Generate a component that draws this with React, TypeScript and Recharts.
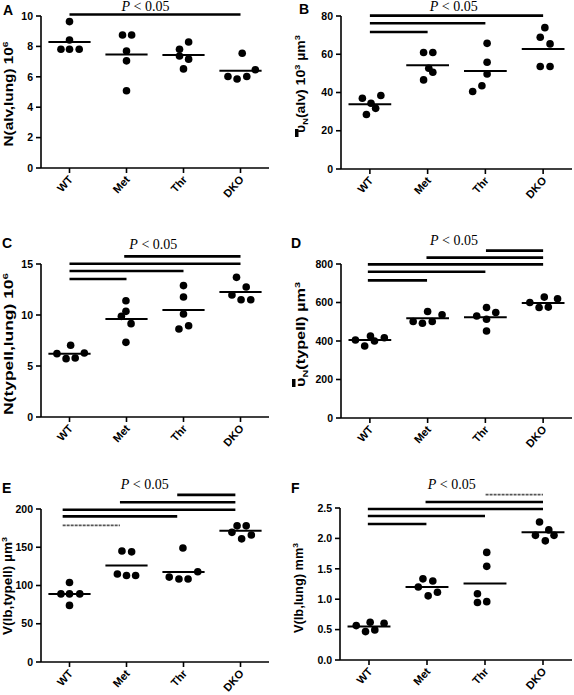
import React from 'react';
import { ScatterChart, Scatter, XAxis, YAxis, ReferenceLine } from 'recharts';

const SANS = '"Liberation Sans", Arial, sans-serif';
const SERIF = '"Liberation Serif", "Times New Roman", serif';

// ---------- data ----------
const categories = ['WT', 'Met', 'Thr', 'DKO'];

// Panel A: N(alv,lung) 10^6
const aTicks = [0, 2, 4, 6, 8, 10];
const aValues = [
  [9.63, 8.42, 7.81, 7.81, 7.81],
  [8.75, 8.75, 7.7, 7.05, 5.08],
  [7.81, 8.29, 7.37, 7.16, 6.52],
  [7.55, 6.02, 5.86, 6.02, 6.46],
];
const aJitter = [
  [0, 0, -0.15, 0, 0.17],
  [-0.07, 0.09, 0, 0, 0],
  [-0.07, 0.09, -0.07, 0.09, 0],
  [0.03, -0.22, -0.06, 0.11, 0.26],
];
const aMeans = [8.29, 7.46, 7.44, 6.39];
const aBars: [number, number, number][] = [[0, 3, 10.1]];

// Panel B: mean alveolar volume 10^3 µm^3
const bTicks = [0, 20, 40, 60, 80];
const bValues = [
  [37.0, 34.4, 38.4, 31.7, 28.5],
  [60.9, 60.9, 52.7, 50.6, 46.6],
  [65.7, 55.8, 49.7, 43.5, 40.5],
  [73.9, 68.9, 65.4, 53.6, 53.6],
];
const bJitter = [
  [-0.13, 0.02, 0.19, 0.1, -0.06],
  [-0.07, 0.09, 0.02, 0.09, -0.07],
  [0.03, 0.03, 0.03, -0.06, -0.22],
  [0.03, -0.05, 0.12, -0.05, 0.12],
];
const bMeans = [33.9, 54.3, 51.3, 62.8];
const bBars: [number, number, number][] = [[0, 3, 80.2], [0, 2, 76.2], [0, 1, 71.6]];

// Panel C: N(typeII,lung) 10^6
const cTicks = [0, 5, 10, 15];
const cValues = [
  [7.03, 6.21, 5.72, 5.78, 6.27],
  [11.4, 10.36, 9.87, 9.15, 7.32],
  [12.88, 11.76, 10.1, 8.63, 8.95],
  [13.69, 12.75, 11.96, 11.5, 11.5],
];
const cJitter = [
  [0.02, -0.22, -0.06, 0.1, 0.26],
  [-0.01, -0.01, -0.09, 0.08, -0.01],
  [0, 0, 0, -0.08, 0.09],
  [-0.07, 0.1, -0.15, 0.01, 0.18],
];
const cMeans = [6.21, 9.61, 10.49, 12.25];
const cBars: [number, number, number][] = [[0.96, 3, 15.75], [0, 3, 15.03], [0, 2, 14.31], [0, 1, 13.53]];

// Panel D: mean type II cell volume µm^3
const dTicks = [0, 200, 400, 600, 800];
const dValues = [
  [405, 374, 426, 400, 417],
  [553, 501, 492, 501, 536],
  [574, 548, 530, 513, 452],
  [600, 574, 628, 576, 619],
];
const dJitter = [
  [-0.25, -0.09, 0.01, 0.08, 0.25],
  [0, -0.25, -0.09, 0.08, 0.25],
  [0.02, 0.18, -0.15, 0.02, 0.02],
  [-0.23, -0.07, 0.02, 0.09, 0.25],
];
const dMeans = [405, 518, 523, 597];
const dBars: [number, number, number][] = [[2.01, 3, 869.6], [0.98, 3, 833], [-0.035, 3, 798], [-0.035, 2, 760], [-0.035, 0.99, 714.8]];

// Panel E: V(lb,typeII) µm^3
const eTicks = [0, 50, 100, 150, 200];
const eValues = [
  [104, 89, 89, 89, 74],
  [145, 144, 115, 113, 113],
  [149, 111, 108.5, 108.5, 118],
  [178, 178, 169.5, 161, 166],
];
const eJitter = [
  [0, -0.15, 0, 0.18, 0],
  [-0.08, 0.09, -0.16, 0, 0.16],
  [-0.01, -0.25, -0.08, 0.08, 0.25],
  [-0.06, 0.1, -0.15, 0.02, 0.19],
];
const eMeans = [89, 126, 117.5, 171.6];
const eBars: [number, number, number][] = [[1.89, 2.91, 218.4], [0.885, 2.91, 208.8], [-0.12, 2.91, 199.1], [-0.12, 1.89, 190.4], [-0.12, 0.885, 178.6]];

// Panel F: V(lb,lung) mm^3
const fTicks = [0, 0.5, 1.0, 1.5, 2.0, 2.5];
const fValues = [
  [0.566, 0.467, 0.62, 0.495, 0.604],
  [1.335, 1.3, 1.2, 1.055, 1.115],
  [1.77, 1.54, 1.09, 0.945, 0.96],
  [2.27, 2.14, 2.05, 1.96, 2.05],
];
const fJitter = [
  [-0.22, -0.06, 0.02, 0.1, 0.26],
  [-0.07, 0.1, -0.15, 0.02, 0.18],
  [0.03, 0.03, -0.13, -0.13, 0.03],
  [-0.06, 0.1, -0.13, 0.04, 0.19],
];
const fMeans = [0.55, 1.2, 1.26, 2.1];
const fBars: [number, number, number][] = [[2.01, 3, 2.72], [0.975, 3, 2.599], [-0.02, 3, 2.484], [-0.02, 2, 2.368], [-0.02, 0.99, 2.236]];

// ---------- styling ----------
const MEAN_HALF = 0.37;
const AXIS = { stroke: '#000', strokeWidth: 1.6 };

const XTick = (props: any) => {
  const { x, y, payload } = props;
  const ax = x + 4;
  const ay = y + 5;
  return (
    <text
      x={ax}
      y={ay}
      transform={`rotate(-48 ${ax} ${ay})`}
      textAnchor="end"
      fontFamily={SANS}
      fontWeight="bold"
      fontSize={11}
      fill="#000"
    >
      {categories[payload.value]}
    </text>
  );
};

const Dot = (props: any) => <circle cx={props.cx} cy={props.cy} r={3.8} fill="#000" />;

interface PanelProps {
  left: number;
  top: number;
  height: number;
  margin: { top: number; right: number; bottom: number; left: number };
  yWidth: number;
  xHeight: number;
  ticks: number[];
  decimals?: number;
  values: number[][];
  jitter: number[][];
  means: number[];
  bars: [number, number, number][];
  lightBar?: number;
  overlay: React.ReactNode;
}

const Panel = (p: PanelProps) => {
  const points = p.values.flatMap((arr, i) => arr.map((v, k) => ({ x: i + p.jitter[i][k], y: v })));
  const domain: [number, number] = [p.ticks[0], p.ticks[p.ticks.length - 1]];
  return (
    <div style={{ position: 'absolute', left: p.left, top: p.top, width: 287, height: p.height }}>
      <ScatterChart width={287} height={p.height} margin={p.margin} style={{ overflow: 'visible' }}>
        <XAxis
          type="number"
          dataKey="x"
          domain={[-0.5, 3.5]}
          ticks={[0, 1, 2, 3]}
          interval={0}
          allowDataOverflow
          height={p.xHeight}
          axisLine={AXIS}
          tickLine={AXIS}
          tickSize={5}
          tick={<XTick />}
        />
        <YAxis
          type="number"
          dataKey="y"
          domain={domain}
          ticks={p.ticks}
          interval={0}
          allowDataOverflow
          width={p.yWidth}
          axisLine={AXIS}
          tickLine={AXIS}
          tickSize={5}
          tickMargin={3}
          tickFormatter={(v: number) => (p.decimals ? v.toFixed(p.decimals) : String(v))}
          tick={{ fontFamily: SANS, fontWeight: 'bold', fontSize: 10.5, fill: '#000' }}
        />
        <Scatter data={points} shape={<Dot />} isAnimationActive={false} />
        {p.means.map((m, i) => (
          <ReferenceLine
            key={`m${i}`}
            segment={[{ x: i - MEAN_HALF, y: m }, { x: i + MEAN_HALF, y: m }]}
            stroke="#000"
            strokeWidth={2}
            ifOverflow="visible"
          />
        ))}
        {p.bars.map((b, i) => (
          <ReferenceLine
            key={`b${i}`}
            segment={[{ x: b[0], y: b[2] }, { x: b[1], y: b[2] }]}
            stroke={p.lightBar === i ? '#555' : '#000'}
            strokeWidth={p.lightBar === i ? 1.8 : 2.6}
            strokeDasharray={p.lightBar === i ? '3 1' : undefined}
            ifOverflow="visible"
          />
        ))}
      </ScatterChart>
      <svg
        width={287}
        height={p.height}
        style={{ position: 'absolute', left: 0, top: 0, overflow: 'visible', pointerEvents: 'none' }}
      >
        {p.overlay}
      </svg>
    </div>
  );
};

const YTitle = ({ x, cy, len, children }: { x: number; cy: number; len: number; children: React.ReactNode }) => (
  <text
    x={x}
    y={cy}
    transform={`rotate(-90 ${x} ${cy})`}
    textAnchor="middle"
    fontFamily={SANS}
    fontWeight="bold"
    fontSize={12}
    fill="#000"
    textLength={len}
    lengthAdjust="spacingAndGlyphs"
  >
    {children}
  </text>
);

const Letter = ({ x, y, t }: { x: number; y: number; t: string }) => (
  <text x={x} y={y} fontFamily={SANS} fontWeight="bold" fontSize={14} fill="#000">
    {t}
  </text>
);

const PText = ({ x, y }: { x: number; y: number }) => (
  <text x={x} y={y} textAnchor="middle" fontFamily={SERIF} fontSize={14} fill="#000">
    <tspan fontStyle="italic">P</tspan> {'< 0.05'}
  </text>
);

const Bar = ({ x, yStart }: { x: number; yStart: number }) => (
  <rect x={x} y={yStart - 8} width={3.5} height={8} fill="#000" />
);

export default function App() {
  return (
    <div style={{ position: 'absolute', left: 0, top: 0, width: 574, height: 695, background: '#fff' }}>
      <Panel
        left={0}
        top={0}
        height={230}
        margin={{ top: 16, right: 18, bottom: 22, left: 5 }}
        yWidth={36}
        xHeight={40}
        ticks={aTicks}
        values={aValues}
        jitter={aJitter}
        means={aMeans}
        bars={aBars}
        overlay={
          <>
            <Letter x={3} y={15} t="A" />
            <PText x={145.5} y={11} />
            <YTitle x={13} cy={94} len={105}>
              <tspan>N(alv,lung) 10</tspan>
              <tspan dy={-5} fontSize={8}>6</tspan>
            </YTitle>
          </>
        }
      />
      <Panel
        left={287}
        top={0}
        height={230}
        margin={{ top: 16, right: 2, bottom: 21, left: 5 }}
        yWidth={49}
        xHeight={40}
        ticks={bTicks}
        values={bValues}
        jitter={bJitter}
        means={bMeans}
        bars={bBars}
        overlay={
          <>
            <Letter x={12} y={14} t="B" />
            <PText x={166.7} y={11} />
            <YTitle x={18} cy={84} len={98}>
              <tspan>υ</tspan>
              <tspan dy={3} fontSize={8}>N</tspan>
              <tspan dy={-3}>(alv) 10</tspan>
              <tspan dy={-5} fontSize={8}>3</tspan>
              <tspan dy={5}> µm</tspan>
              <tspan dy={-5} fontSize={8}>3</tspan>
            </YTitle>
            <Bar x={8} yStart={137} />
          </>
        }
      />
      <Panel
        left={0}
        top={230}
        height={230}
        margin={{ top: 34, right: 18, bottom: 3, left: 5 }}
        yWidth={36}
        xHeight={40}
        ticks={cTicks}
        values={cValues}
        jitter={cJitter}
        means={cMeans}
        bars={cBars}
        overlay={
          <>
            <Letter x={2} y={18} t="C" />
            <PText x={153.3} y={19.3} />
            <YTitle x={13} cy={114} len={142}>
              <tspan>N(typeII,lung) 10</tspan>
              <tspan dy={-5} fontSize={8}>6</tspan>
            </YTitle>
          </>
        }
      />
      <Panel
        left={287}
        top={230}
        height={230}
        margin={{ top: 34, right: 2, bottom: 2, left: 5 }}
        yWidth={49}
        xHeight={40}
        ticks={dTicks}
        values={dValues}
        jitter={dJitter}
        means={dMeans}
        bars={dBars}
        overlay={
          <>
            <Letter x={4} y={18} t="D" />
            <PText x={167} y={15} />
            <YTitle x={18} cy={104.5} len={105}>
              <tspan>υ</tspan>
              <tspan dy={3} fontSize={8}>N</tspan>
              <tspan dy={-3}>(typeII) µm</tspan>
              <tspan dy={-5} fontSize={8}>3</tspan>
            </YTitle>
            <Bar x={5} yStart={104.5 + 52.5} />
          </>
        }
      />
      <Panel
        left={0}
        top={460}
        height={235}
        margin={{ top: 49, right: 18, bottom: 0, left: 5 }}
        yWidth={36}
        xHeight={33}
        ticks={eTicks}
        values={eValues}
        jitter={eJitter}
        means={eMeans}
        bars={eBars}
        lightBar={4}
        overlay={
          <>
            <Letter x={2} y={33} t="E" />
            <PText x={144.7} y={29.3} />
            <YTitle x={12} cy={126} len={98}>
              <tspan>V(lb,typeII) µm</tspan>
              <tspan dy={-5} fontSize={8}>3</tspan>
            </YTitle>
          </>
        }
      />
      <Panel
        left={287}
        top={460}
        height={235}
        margin={{ top: 48, right: 2, bottom: 0, left: 5 }}
        yWidth={48}
        xHeight={35}
        ticks={fTicks}
        decimals={1}
        values={fValues}
        jitter={fJitter}
        means={fMeans}
        bars={fBars}
        lightBar={0}
        overlay={
          <>
            <Letter x={4} y={33} t="F" />
            <PText x={164.7} y={29.3} />
            <YTitle x={16} cy={128} len={90}>
              <tspan>V(lb,lung) mm</tspan>
              <tspan dy={-5} fontSize={8}>3</tspan>
            </YTitle>
          </>
        }
      />
    </div>
  );
}
